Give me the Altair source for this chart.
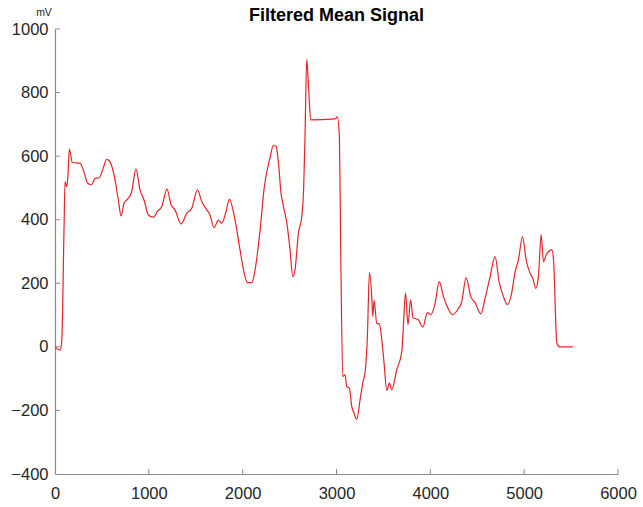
import altair as alt
import pandas as pd

# Signal samples (x in samples, y in mV)
sig_x = [0, 53, 71, 96, 107, 124, 135, 153, 185, 266, 302, 348, 391, 426, 472, 508, 551, 593,
         640, 675, 704, 736, 771, 817, 863, 906, 949, 995, 1048, 1091, 1137, 1194, 1237, 1279,
         1343, 1404, 1457, 1519, 1564, 1617, 1652, 1695, 1741, 1777, 1823, 1858, 1919, 1972,
         2025, 2050, 2097, 2132, 2186, 2229, 2293, 2329, 2357, 2382, 2407, 2435, 2471, 2505,
         2534, 2558, 2594, 2630, 2650, 2665, 2683, 2700, 2726, 2985, 3009, 3031, 3045, 3067,
         3091, 3109, 3137, 3163, 3187, 3216, 3251, 3280, 3308, 3329, 3351, 3376, 3387, 3401,
         3429, 3457, 3483, 3507, 3536, 3564, 3589, 3642, 3696, 3710, 3735, 3762, 3790, 3815,
         3873, 3920, 3969, 4005, 4051, 4094, 4140, 4176, 4236, 4289, 4335, 4381, 4431, 4477,
         4538, 4584, 4637, 4690, 4733, 4779, 4822, 4864, 4904, 4939, 4982, 5021, 5063, 5092,
         5124, 5152, 5181, 5206, 5234, 5295, 5313, 5348, 5376, 5519]
sig_y = [0, -10, 12, 368, 520, 504, 525, 622, 580, 578, 557, 515, 510, 530, 532, 557, 590, 578,
         525, 462, 412, 452, 464, 488, 559, 494, 462, 415, 408, 426, 441, 496, 447, 431,
         387, 420, 436, 494, 457, 431, 415, 375, 399, 389, 426, 464, 399, 305,
         221, 202, 202, 242, 368, 499, 598, 635, 630, 578, 488, 441, 389, 305,
         221, 242, 358, 410, 500, 672, 905, 829, 714, 717, 724, 661, 305, -93,
         -88, -125, -130, -188, -209, -228, -167, -114, -72, 32, 234, 158, 95, 146,
         74, 72, 22, -51, -137, -114, -135, -72, -15, 50, 169, 70, 148, 92,
         85, 62, 108, 101, 137, 205, 158, 129, 101, 116, 142, 218, 158, 139,
         104, 153, 221, 284, 205, 158, 133, 165, 237, 274, 347, 274, 232, 216,
         184, 221, 352, 268, 289, 305, 274, 12, 0, 0]

x_ticks = [0, 1000, 2000, 3000, 4000, 5000, 6000]
y_ticks = [-400, -200, 0, 200, 400, 600, 800, 1000]
title_text = "Filtered Mean Signal"
unit_text = "mV"

W, H = 563, 445
AXC = "#8a8a8a"
LBL = "#262626"
FONT = "Liberation Sans"

df = pd.DataFrame({"x": sig_x, "y": sig_y})
xs = alt.Scale(domain=[0, 6000], nice=False, zero=False)
ys = alt.Scale(domain=[-400, 1000], nice=False, zero=False)

x_axis = alt.Axis(
    values=x_ticks, ticks=False, grid=False, title=None, format="d",
    domainColor=AXC, domainWidth=1.2, labelColor=LBL, labelFontSize=16.5,
    labelFont=FONT, labelPadding=11, labelFlush=False)
y_axis = alt.Axis(
    values=y_ticks, ticks=False, grid=False, title=None,
    format="d", domainColor=AXC, domainWidth=1.2, labelColor=LBL, labelFontSize=16.5,
    labelFont=FONT, labelPadding=7, labelFlush=False)

line = alt.Chart(df).mark_line(color="#e52428", strokeWidth=1.2, interpolate="monotone").encode(
    x=alt.X("x:Q", scale=xs, axis=x_axis),
    y=alt.Y("y:Q", scale=ys, axis=y_axis),
)

xt = alt.Chart(pd.DataFrame({"x": x_ticks[1:]})).mark_rule(color=AXC, strokeWidth=1).encode(
    x=alt.X("x:Q", scale=xs, axis=x_axis),
    y=alt.value(H), y2=alt.value(H - 5),
)
yt = alt.Chart(pd.DataFrame({"y": y_ticks[1:]})).mark_rule(color=AXC, strokeWidth=1).encode(
    y=alt.Y("y:Q", scale=ys, axis=y_axis),
    x=alt.value(0), x2=alt.value(5),
)

unit = alt.Chart(pd.DataFrame({"t": [unit_text]})).mark_text(
    font=FONT, fontSize=10.5, color=LBL, align="center", baseline="alphabetic"
).encode(text="t:N", x=alt.value(-11), y=alt.value(-13))

title = alt.Chart(pd.DataFrame({"t": [title_text]})).mark_text(
    font=FONT, fontSize=18, fontWeight="bold", color="#000000", align="center",
    baseline="alphabetic"
).encode(text="t:N", x=alt.value(W / 2), y=alt.value(-8))

chart = alt.layer(line, xt, yt, unit, title).properties(
    width=W, height=H,
    background="white",
    autosize=alt.AutoSizeParams(type="none"),
    padding={"left": 55, "top": 29, "right": 25, "bottom": 33},
).configure_view(stroke=None)

chart.save("out.html", embed_options={"renderer": "svg", "actions": False})
